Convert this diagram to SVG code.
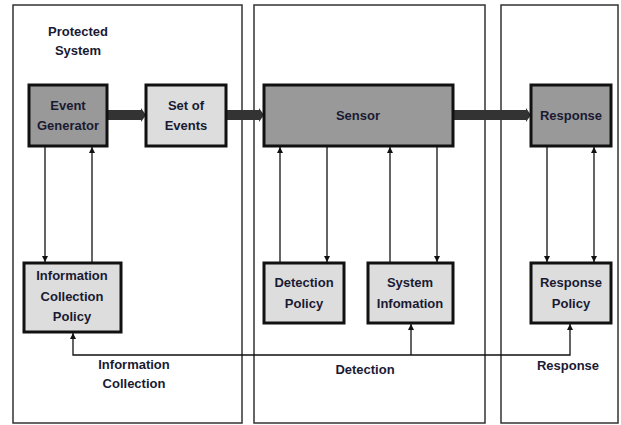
<svg xmlns="http://www.w3.org/2000/svg" width="621" height="425" viewBox="0 0 621 425">
  <style>
    .frame { fill: #fff; stroke: #333; stroke-width: 1.5; }
    .dark { fill: #999; stroke: #111; stroke-width: 3; }
    .light { fill: #ddd; stroke: #111; stroke-width: 3; }
    .lbl { font-family: "Liberation Sans", Arial, sans-serif; font-weight: bold; font-size: 13px; fill: #1a1a33; text-anchor: middle; }
    .wire { fill: none; stroke: #111; stroke-width: 1.3; }
    .flow { fill: #333; }
  </style>
  <defs>
    <marker id="tip" viewBox="0 0 10 10" refX="10" refY="5" markerWidth="6" markerHeight="9" markerUnits="userSpaceOnUse" orient="auto-start-reverse">
      <path d="M0,0 L10,5 L0,10 z" fill="#111"/>
    </marker>
  </defs>

  <rect width="621" height="425" fill="#fff"/>

  <!-- region frames -->
  <g id="frames">
    <rect class="frame" x="13" y="5" width="229" height="418"/>
    <rect class="frame" x="254" y="5" width="231" height="418"/>
    <rect class="frame" x="501" y="5" width="117" height="418"/>
  </g>

  <text class="lbl" x="78" y="36">Protected</text>
  <text class="lbl" x="78" y="55">System</text>

  <!-- connectors -->
  <g id="connectors">
    <!-- main event flow -->
    <polygon class="flow" points="107,110 141,110 141,108 146,115 141,122 141,120 107,120"/>
    <polygon class="flow" points="226,110 259,110 259,108 264,115 259,122 259,120 226,120"/>
    <polygon class="flow" points="453,110 526,110 526,108 531,115 526,122 526,120 453,120"/>

    <!-- event generator <-> information collection policy -->
    <line class="wire" x1="45" y1="147" x2="45" y2="262" marker-end="url(#tip)"/>
    <line class="wire" x1="92" y1="262" x2="92" y2="147" marker-end="url(#tip)"/>

    <!-- sensor <-> policies -->
    <line class="wire" x1="280" y1="262" x2="280" y2="147" marker-end="url(#tip)"/>
    <line class="wire" x1="327" y1="147" x2="327" y2="262" marker-end="url(#tip)"/>
    <line class="wire" x1="390" y1="262" x2="390" y2="147" marker-end="url(#tip)"/>
    <line class="wire" x1="437" y1="147" x2="437" y2="262" marker-end="url(#tip)"/>

    <!-- response <-> response policy -->
    <line class="wire" x1="547" y1="147" x2="547" y2="262" marker-end="url(#tip)"/>
    <line class="wire" x1="594" y1="147" x2="594" y2="262" marker-start="url(#tip)" marker-end="url(#tip)"/>

    <!-- policy feedback bus -->
    <polyline class="wire" points="73,333 73,355 570,355 570,324" marker-start="url(#tip)" marker-end="url(#tip)"/>
    <line class="wire" x1="411" y1="355" x2="411" y2="324" marker-end="url(#tip)"/>
  </g>

  <g id="event-generator">
    <rect class="dark" x="29" y="85" width="78" height="61"/>
    <text class="lbl" x="68" y="110">Event</text>
    <text class="lbl" x="68" y="130">Generator</text>
  </g>

  <g id="set-of-events">
    <rect class="light" x="146" y="85" width="80" height="61"/>
    <text class="lbl" x="186" y="110">Set of</text>
    <text class="lbl" x="186" y="130">Events</text>
  </g>

  <g id="sensor">
    <rect class="dark" x="264" y="85" width="189" height="61"/>
    <text class="lbl" x="358" y="120">Sensor</text>
  </g>

  <g id="response">
    <rect class="dark" x="531" y="85" width="80" height="61"/>
    <text class="lbl" x="571" y="120">Response</text>
  </g>

  <g id="information-collection-policy">
    <rect class="light" x="24" y="263" width="97" height="69"/>
    <text class="lbl" x="72" y="280">Information</text>
    <text class="lbl" x="72" y="301">Collection</text>
    <text class="lbl" x="72" y="321">Policy</text>
  </g>

  <g id="detection-policy">
    <rect class="light" x="264" y="263" width="80" height="60"/>
    <text class="lbl" x="304" y="287">Detection</text>
    <text class="lbl" x="304" y="308">Policy</text>
  </g>

  <g id="system-information">
    <rect class="light" x="368" y="263" width="85" height="60"/>
    <text class="lbl" x="410" y="287">System</text>
    <text class="lbl" x="410" y="308">Infomation</text>
  </g>

  <g id="response-policy">
    <rect class="light" x="531" y="263" width="80" height="60"/>
    <text class="lbl" x="571" y="287">Response</text>
    <text class="lbl" x="571" y="308">Policy</text>
  </g>

  <text class="lbl" x="134" y="369">Information</text>
  <text class="lbl" x="134" y="388">Collection</text>
  <text class="lbl" x="365" y="374">Detection</text>
  <text class="lbl" x="568" y="370">Response</text>
</svg>
